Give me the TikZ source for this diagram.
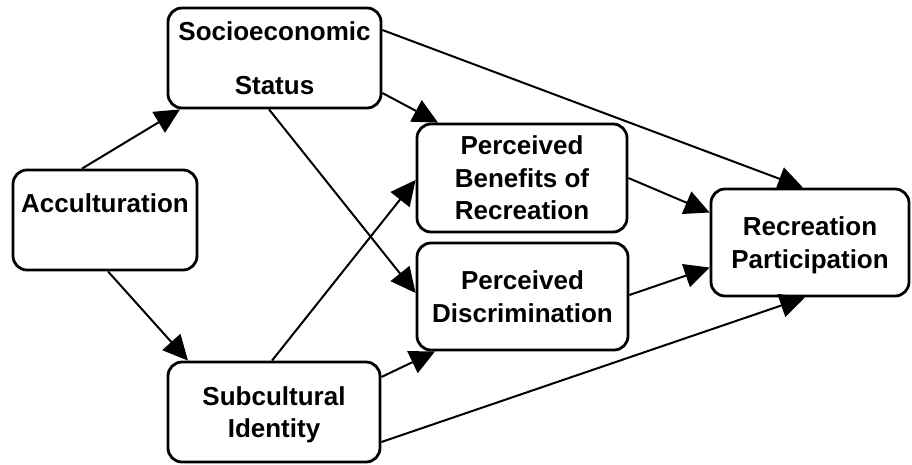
\documentclass[tikz,border=0pt]{standalone}
\usepackage{fontspec}
\setmainfont{Liberation Sans}
\usetikzlibrary{arrows.meta,calc}
% invisible rule that adds depth below a line of text
\newcommand\extradepth[1]{\rule[-#1]{0pt}{0pt}}
\begin{document}
\begin{tikzpicture}[x=1pt,y=-1pt,
  box/.style={draw,line width=2.8pt,rounded corners=14pt,fill=white,
    align=center,inner sep=0pt,
    font=\fontsize{26}{32.5}\selectfont\bfseries},
  link/.style={line width=2pt,-{Triangle[length=25pt,width=24pt]}}]
\useasboundingbox (0,0) rectangle (912,464);

% variables
\node[box,minimum width=213pt,minimum height=100pt] (ses) at (274.5,58)
  {Socioeconomic\\[21.5pt]Status};
\node[box,minimum width=184pt,minimum height=100pt] (acc) at (105,220)
  {Acculturation\extradepth{34.7pt}};
\node[box,minimum width=212pt,minimum height=100pt] (si) at (274,412)
  {Subcultural\\\smash{Identity}};
\node[box,minimum width=210pt,minimum height=108pt] (pb) at (522,178)
  {Perceived\\Benefits of\\Recreation};
\node[box,minimum width=211pt,minimum height=107pt] (pd) at (522.5,296.5)
  {Perceived\\Discrimination};
\node[box,minimum width=198pt,minimum height=107pt] (rp) at (810,242.5)
  {Recreation\\\smash{Participation}};

% paths
\draw[link] ($(acc.north)+(-23,0)$) -- ($(ses.south)+(-94.5,0)$);
\draw[link] ($(acc.south)+(3,0)$) -- ($(si.north)+(-86,0)$);
\draw[link] ($(ses.east)+(0,35)$) -- ($(pb.north)+(-84,0)$);
\draw[link] ($(ses.east)+(0,-28)$) -- ($(rp.north)+(-7,0)$);
\draw[link] ($(ses.south)+(-5.5,0)$) -- ($(pd.west)+(0,-3.5)$);
\draw[link] ($(si.north)+(-2,0)$) -- ($(pb.west)+(0,2)$);
\draw[link] ($(si.east)+(0,-35)$) -- ($(pd.south)+(-87.5,0)$);
\draw[link] ($(si.east)+(0,30)$) -- ($(rp.south)+(-5,0)$);
\draw[link] (pb.east) -- ($(rp.west)+(0,-30)$);
\draw[link] ($(pd.east)+(0,-1.5)$) -- ($(rp.west)+(0,25)$);
\end{tikzpicture}
\end{document}
